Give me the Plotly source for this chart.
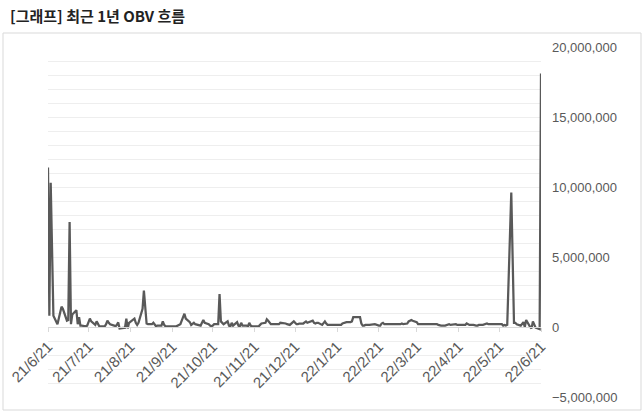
import pandas as pd
import plotly.graph_objects as go

# Trading days (weekdays) for the last year
dates = pd.bdate_range("2021-06-21", "2022-06-21")

# OBV values in millions, one row per week (Mon..Fri)
obv_million = [
    11.4, 0.8, 10.3, 5.0, 0.8,
    0.2, 0.7, 1.1, 1.45, 1.3,
    0.45, 0.5, 7.5, 0.2, 0.9,
    1.2, 0.2, 0.7, 0.1, 0.1,
    0.05, 0.1, 0.3, 0.6, 0.4,
    0.15, 0.4, 0.2, 0.05, 0.05,
    0.05, 0.2, 0.45, 0.3, 0.2,
    0.1, 0.05, 0.15, 0.33, -0.1,
    -0.1, -0.05, 0.6, -0.1, 0.3,
    0.5, 0.6, 0.3, 0.15, 0.3,
    1.3, 2.6, 1.3, 0.25, 0.2,
    0.2, 0.3, 0.15, 0.05, 0.1,
    0.1, 0.4, 0.15, 0.05, 0.05,
    0.05, 0.05, 0.1, 0.05, 0.05,
    0.2, 0.5, 0.7, 0.95, 0.6,
    0.35, 0.15, 0.2, 0.3, 0.2,
    0.1, 0.1, 0.3, 0.5, 0.3,
    0.2, 0.1, 0.05, 0.1, 0.2,
    0.2, 2.35, 0.4, 0.3, 0.2,
    0.4, 0.1, 0.05, 0.3, 0.1,
    0.35, 0.1, 0.05, 0.3, 0.1,
    0.1, 0.05, 0.3, 0.1, 0.05,
    0.05, 0.1, 0.05, 0.15, 0.25,
    0.3, 0.55, 0.45, 0.3, 0.2,
    0.2, 0.2, 0.25, 0.2, 0.3,
    0.3, 0.25, 0.2, 0.15, 0.15,
    0.4, 0.3, 0.2, 0.2, 0.25,
    0.25, 0.3, 0.4, 0.3, 0.35,
    0.45, 0.3, 0.25, 0.3, 0.3,
    0.15, 0.3, 0.4, 0.25, 0.15,
    0.15, 0.15, 0.2, 0.2, 0.15,
    0.15, 0.25, 0.3, 0.35, 0.35,
    0.35, 0.4, 0.7, 0.7, 0.7,
    0.7, 0.25, 0.1, 0.1, 0.15,
    0.15, 0.15, 0.2, 0.2, 0.2,
    0.1, 0.1, 0.25, 0.3, 0.2,
    0.2, 0.15, 0.15, 0.15, 0.15,
    0.15, 0.15, 0.2, 0.25, 0.2,
    0.25, 0.4, 0.45, 0.5, 0.45,
    0.35, 0.2, 0.2, 0.25, 0.25,
    0.2, 0.2, 0.2, 0.2, 0.25,
    0.25, 0.2, 0.15, 0.1, 0.1,
    0.1, 0.15, 0.2, 0.2, 0.15,
    0.2, 0.2, 0.15, 0.15, 0.15,
    0.1, 0.15, 0.25, 0.2, 0.15,
    0.15, 0.1, 0.1, 0.1, 0.15,
    0.15, 0.2, 0.25, 0.25, 0.2,
    0.2, 0.25, 0.25, 0.2, 0.2,
    0.2, 0.1, 0.15, 0.1, 0.15,
    9.6, 4.8, 0.3, 0.3, 0.2,
    0.1, 0.2, 0.35, 0.0, 0.5,
    0.0, -0.1, 0.4, 0.1, -0.05,
    -0.15, 18.1,
]
obv = [v * 1_000_000 for v in obv_million]

tick_dates = ["2021-06-21", "2021-07-21", "2021-08-21", "2021-09-21", "2021-10-21",
              "2021-11-21", "2021-12-21", "2022-01-21", "2022-02-21", "2022-03-21",
              "2022-04-21", "2022-05-21", "2022-06-21"]
tick_labels = ["21/6/21", "21/7/21", "21/8/21", "21/9/21", "21/10/21", "21/11/21",
               "21/12/21", "22/1/21", "22/2/21", "22/3/21", "22/4/21", "22/5/21", "22/6/21"]
y_ticks = [-5_000_000, 0, 5_000_000, 10_000_000, 15_000_000, 20_000_000]

title_text = "[그래프] 최근 1년 OBV 흐름"

fig = go.Figure()
fig.add_trace(go.Scatter(
    x=dates, y=obv, mode="lines",
    line=dict(color="#595959", width=2.25),
    hoverinfo="skip", showlegend=False,
))

L, R, T, B = 48, 102, 47, 22
W, H = 643, 419
pw, ph = W - L - R, H - T - B

fig.update_layout(
    width=W, height=H,
    margin=dict(l=L, r=R, t=T, b=B, autoexpand=False),
    paper_bgcolor="white", plot_bgcolor="white",
    font=dict(family="Liberation Sans, Arial, sans-serif", color="#595959"),
    xaxis=dict(
        type="date", automargin=False,
        range=["2021-06-21", "2022-06-21"],
        tickmode="array", tickvals=tick_dates, ticktext=tick_labels,
        tickangle=-45, tickfont=dict(size=15, color="#595959"),
        showgrid=False, zeroline=False,
        showline=True, linecolor="#d9d9d9", linewidth=1,
        ticks="outside", ticklen=4, tickcolor="#d9d9d9",
        anchor="free", position=0.2,
    ),
    yaxis=dict(
        side="right", automargin=False,
        range=[-5_000_000, 20_000_000],
        tickmode="array", tickvals=y_ticks,
        tickformat=",", tickfont=dict(size=13, color="#595959"),
        showgrid=True, gridcolor="#eeeeee", gridwidth=1,
        minor=dict(dtick=1_000_000, showgrid=True, gridcolor="#eeeeee", gridwidth=1),
        zeroline=False, showline=False,
        ticks="", ticklabelstandoff=10,
    ),
    shapes=[dict(
        type="rect", xref="paper", yref="paper",
        x0=(3 - L) / pw, x1=(641 - L) / pw,
        y0=(H - B - 410) / ph, y1=(H - B - 33) / ph,
        line=dict(color="#d9d9d9", width=1), fillcolor="rgba(0,0,0,0)", layer="below",
    )],
    annotations=[dict(
        text="<b>" + title_text + "</b>", xref="paper", yref="paper",
        x=(8 - L) / pw, y=(H - B - 15) / ph,
        xanchor="left", yanchor="middle", showarrow=False,
        font=dict(family="Noto Sans CJK KR", size=15, color="#222222"),
    )],
)

fig.write_html(
    "out.html",
    config={"displayModeBar": False},
    post_script="document.body.style.margin='0';document.body.style.padding='0';document.body.style.overflow='hidden';",
)
